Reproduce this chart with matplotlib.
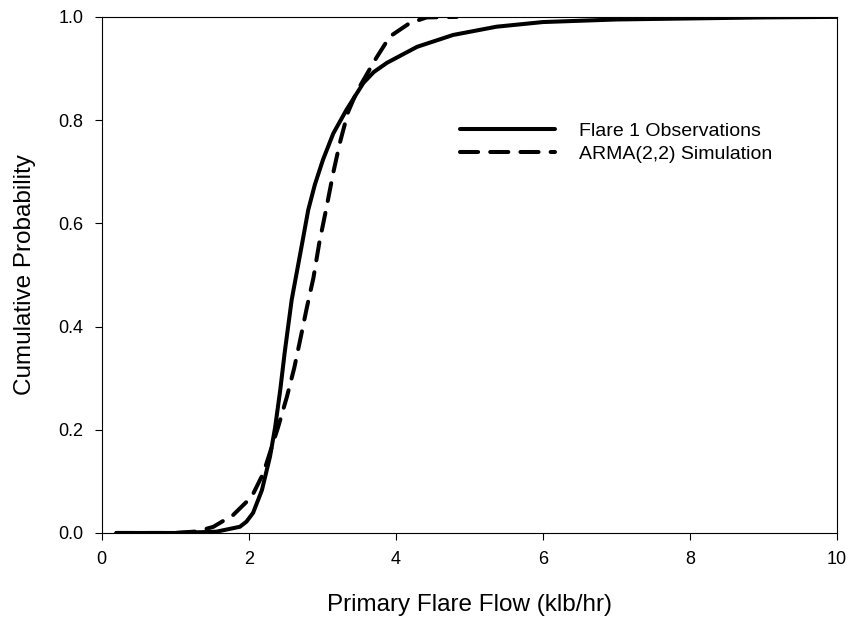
import matplotlib
matplotlib.use("Agg")
import matplotlib.pyplot as plt

plt.rcParams['font.family'] = ['Liberation Sans', 'DejaVu Sans']

obs_x = [0.2, 1.0, 1.56, 1.88, 1.97, 2.06, 2.18, 2.29, 2.36, 2.43, 2.49, 2.585, 2.71, 2.81,
         2.90, 3.01, 3.15, 3.33, 3.56, 3.70, 3.88, 4.29, 4.78, 5.37, 6.0, 7.0, 8.0, 9.0, 10.0]
obs_y = [0.0, 0.0, 0.0025, 0.012, 0.022, 0.039, 0.083, 0.148, 0.205, 0.278, 0.350, 0.452, 0.548, 0.626,
         0.675, 0.723, 0.774, 0.820, 0.872, 0.893, 0.911, 0.942, 0.965, 0.981, 0.990, 0.995, 0.997,
         0.999, 1.0]

# ARMA(2,2) simulation
sim_x = [0.2, 1.0, 1.3, 1.52, 1.79, 2.04, 2.20, 2.40, 2.52, 2.62, 2.70, 2.79, 2.88, 2.96,
         3.06, 3.15, 3.24, 3.35, 3.44, 3.51, 3.72, 3.92, 4.19, 4.42, 4.83]
sim_y = [0.0, 0.0, 0.003, 0.012, 0.035, 0.070, 0.116, 0.205, 0.264, 0.320, 0.374, 0.436, 0.494, 0.562,
         0.632, 0.698, 0.756, 0.815, 0.845, 0.865, 0.917, 0.962, 0.988, 0.999, 1.0]

xticks = [0, 2, 4, 6, 8, 10]
yticks = [0.0, 0.2, 0.4, 0.6, 0.8, 1.0]

fig = plt.figure(figsize=(8.54, 6.26), dpi=100)
ax = fig.add_axes([0.119, 0.1486, 0.861, 0.8244])

ax.plot(obs_x, obs_y, color='black', lw=2.9, solid_capstyle='round',
        solid_joinstyle='round', label='Flare 1 Observations')
ax.plot(sim_x, sim_y, color='black', lw=2.9, dashes=(4.5, 3.0),
        dash_capstyle='round', dash_joinstyle='round', label='ARMA(2,2) Simulation')

ax.set_xlim(0, 10)
ax.set_ylim(0, 1)
ax.set_xticks(xticks)
ax.set_yticks(yticks)
ax.set_xticklabels([str(t) for t in xticks])
ax.set_yticklabels(['%.1f' % t for t in yticks])
ax.tick_params(direction='out', length=5, width=0.8, labelsize=13, pad=8)
for s in ax.spines.values():
    s.set_linewidth(0.8)

ax.set_xlabel('Primary Flare Flow (klb/hr)', fontsize=17.5, labelpad=19)
ax.set_ylabel('Cumulative Probability', fontsize=17.5, labelpad=16)

ax.legend(loc='upper left', bbox_to_anchor=(460 / 854, 1 - 122 / 626),
          bbox_transform=fig.transFigure, frameon=False, fontsize=14,
          handlelength=4.9, handletextpad=1.2, borderpad=0, borderaxespad=0,
          labelspacing=0.3)

fig.savefig('out.png', dpi=100)
